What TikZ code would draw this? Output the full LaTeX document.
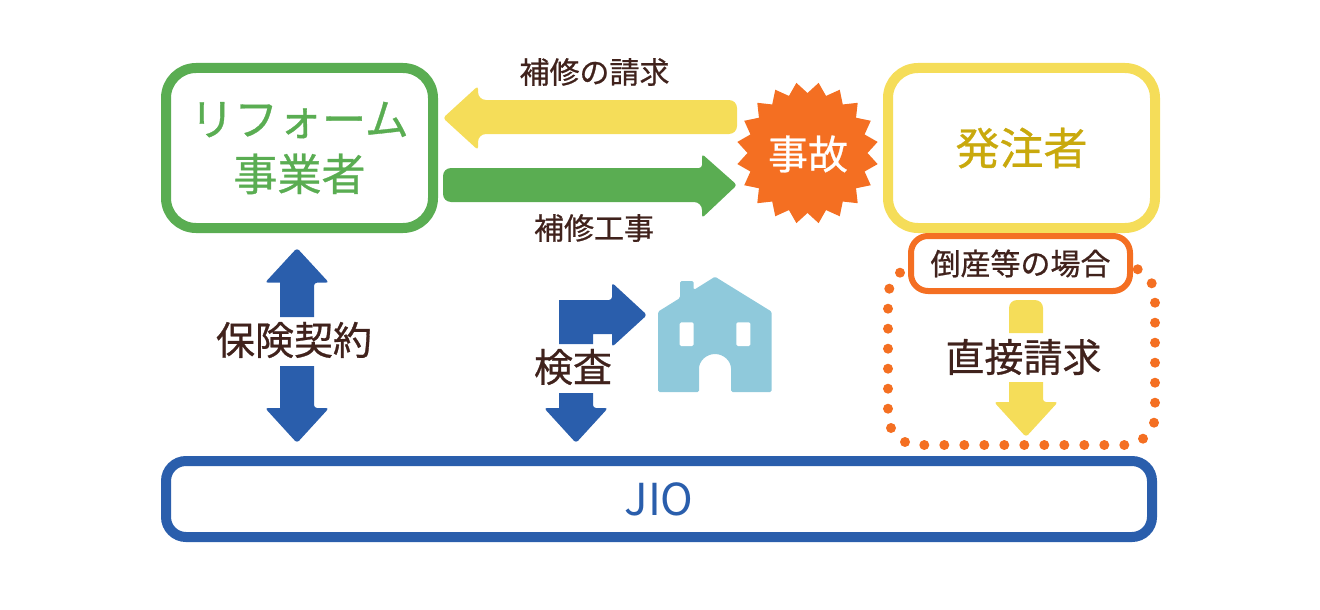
\documentclass[tikz,border=0pt]{standalone}
\usepackage{fontspec}
\setmainfont{Noto Sans CJK JP}
\newfontfamily\cjkm[FakeBold=0.7]{Noto Sans CJK JP}
\definecolor{cgreen}{HTML}{5AAD52}
\definecolor{cyellow}{HTML}{F5DD59}
\definecolor{cblue}{HTML}{2A5EAC}
\definecolor{corange}{HTML}{F46F22}
\definecolor{cbrown}{HTML}{40221C}
\definecolor{chouse}{HTML}{8FC9DB}
\definecolor{cgold}{HTML}{C9A90D}
\newcommand{\fs}[1]{\fontsize{#1}{#1}\selectfont\cjkm}
\tikzset{
  x=1pt,y=-1pt,
  every node/.style={inner sep=0pt,outer sep=0pt,align=center},
  partybox/.style={draw,line width=10pt,fill=white,rounded corners=30pt},
  lab/.style={text=cbrown,font=\fs{30}},
  biglab/.style={text=cbrown,font=\fs{39}},
  tip/.style={rounded corners=3pt},
  flat/.style={sharp corners},
}
\begin{document}
\begin{tikzpicture}
\useasboundingbox (0,0) rectangle (1320,610);
% dotted region
\foreach \px/\py in {900/272.7,889.3/288.7,888/308.7,888/328.7,888/348.7,888/368.7,888/388.7,888/408.7,891/428,905/442,
  924.3/445,944.3/445,964.3/445,984.3/445,1004.3/445,1024.3/445,1044.3/445,1064.3/445,1084.3/445,1104.3/445,1124.3/445,
  1143/438.7,1154/422.7,1155/402.7,1155/382.7,1155/362.7,1155/342.7,1155/322.7,1155/302.7,1151.7/283.3,1137.7/269.3}
  \fill[corange] (\px,\py) circle[radius=5];
% parties
\node[partybox,draw=cgreen,minimum width=267pt,minimum height=160pt,text=cgreen,font=\fs{44}] (reform) at (299.5,148)
  {\raisebox{4pt}{リフォーム}\\[7pt]事業者};
\node[partybox,draw=cyellow,minimum width=267pt,minimum height=160pt,text=cgold,font=\fs{44}] (owner) at (1021.5,148) {発注者};
\node[partybox,draw=cblue,minimum width=986pt,minimum height=76pt,rounded corners=20pt,text=cblue,font=\fontsize{44}{44}\selectfont] (jio) at (659,499) {JIO};
\node[draw=corange,line width=6pt,fill=white,rounded corners=17pt,minimum width=219pt,minimum height=55pt,text=cbrown,font=\fs{30}] (bankrupt) at (1020.5,263.5) {倒産等の場合};
% accident burst
\fill[corange] (807.5,153) +(9:71)
  \foreach \k in {1,...,19} { -- +({9+18*\k-9}:60) -- +({9+18*\k}:71) } -- +(0:60) -- cycle;
\node[text=white,font=\fs{40}] (accident) at (808,154) {事故};
% claim arrow
\fill[cyellow] (443,118) [tip] -- (478,86) -- (478,100) [rounded corners=8pt] -- (478,100) -- (737,100) -- (737,134) -- (478,134) [tip] -- (478,150) -- cycle;
% repair arrow
\fill[cgreen] (737,185) [tip] -- (702,154) -- (702,168) [rounded corners=8pt] -- (443,168) -- (443,202) -- (702,202) [tip] -- (702,218) -- cycle;
\node[lab] (claim) at (594.5,72) {補修の請求};
\node[lab] (repair) at (594,228) {補修工事};
% insurance arrows
\fill[cblue] (297,248) [tip] -- (329,282.7) -- (314,282.7) [flat] -- (314,317) -- (280,317) -- (280,282.7) [tip] -- (265,282.7) -- cycle;
\fill[cblue] (297,443) [tip] -- (329,408) -- (314,408) [flat] -- (314,366) -- (280,366) -- (280,408) [tip] -- (265,408) -- cycle;
\node[biglab] (insurance) at (294,340) {保険契約};
% inspection arrows
\fill[cblue] (647,315) [tip] -- (612,282.7) -- (612,300) [flat] -- (559,300) -- (559,344) -- (593,344) -- (593,334) -- (612,334) [tip] -- (612,347) -- cycle;
\fill[cblue] (576,443) [tip] -- (608,408) -- (593,408) [flat] -- (593,393) -- (559,393) -- (559,408) [tip] -- (544,408) -- cycle;
\node[biglab] (inspection) at (573,367) {検査};
% house
\fill[chouse,rounded corners=1.5pt] (715,276.7) -- (771.7,311.7) -- (771.7,392) -- (731,392) -- (731,370) arc[start angle=0,end angle=-180,radius=16] -- (699,392) -- (658,392) -- (658,311.7) -- (680,298) -- (680,281) -- (693.7,281) -- (693.7,290) -- cycle;
\fill[white,rounded corners=1.5pt] (679.7,322.3) rectangle (693.7,346);
\fill[white,rounded corners=1.5pt] (736.3,322.3) rectangle (750.3,346);
% direct claim arrows
\fill[cyellow] (1009,333) [rounded corners=8pt] -- (1009,300) -- (1043,300) [flat] -- (1043,333) -- cycle;
\fill[cyellow] (1026,437) [tip] -- (1058,402) -- (1043,402) [flat] -- (1043,382) -- (1009,382) -- (1009,402) [tip] -- (994,402) -- cycle;
\node[biglab] (direct) at (1023.5,357) {直接請求};
\end{tikzpicture}
\end{document}
